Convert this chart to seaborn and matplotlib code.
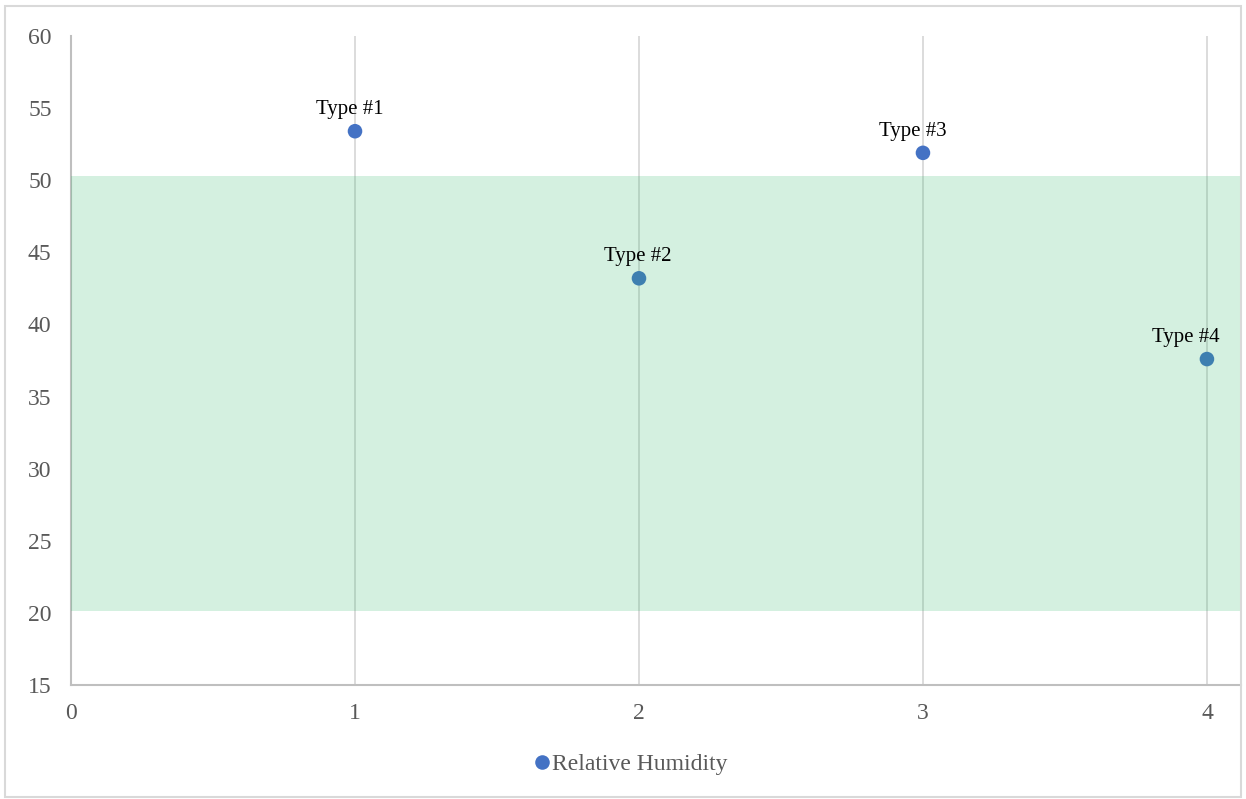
import matplotlib
matplotlib.use("Agg")
import matplotlib.pyplot as plt
import seaborn as sns
import pandas as pd

# Relative humidity by type
x_pos = [1, 2, 3, 4]
humidity = [53.4, 43.2, 51.9, 37.6]
type_labels = ["Type #1", "Type #2", "Type #3", "Type #4"]
comfort_low, comfort_high = 20.1, 50.3
series_name = "Relative Humidity"

df = pd.DataFrame({"x": x_pos, "rh": humidity, "series": series_name})

sns.set_theme(style="white")
plt.rcParams["font.family"] = ["Liberation Serif", "DejaVu Serif"]

fig = plt.figure(figsize=(12.46, 7.99), dpi=100)
ax = fig.add_axes([0.057, 0.1427, 0.939, 0.8122])

ax.set_xlim(0, 4.12)
ax.set_ylim(15, 60)
ax.set_xticks([0, 1, 2, 3, 4])
ax.set_yticks(range(15, 61, 5))

for xv in [1, 2, 3, 4]:
    ax.axvline(xv, color="#D9D9D9", lw=1.3, zorder=1)

sns.scatterplot(data=df, x="x", y="rh", hue="series", palette=["#4472C4"],
                s=110, edgecolor="none", ax=ax, zorder=3, legend=True)

# Comfort band drawn over the data
ax.axhspan(comfort_low, comfort_high, color="#28B464", alpha=0.2, lw=0, zorder=4)

label_dx = [-5, -1, -10, -21]
for xv, yv, lab, dx in zip(x_pos, humidity, type_labels, label_dx):
    ax.annotate(lab, (xv, yv), xytext=(dx, 12), textcoords="offset pixels",
                ha="center", va="bottom", fontsize=15, color="black", zorder=5)

ax.set_xlabel("")
ax.set_ylabel("")
for side in ["top", "right"]:
    ax.spines[side].set_visible(False)
for side in ["left", "bottom"]:
    ax.spines[side].set_color("#BFBFBF")
    ax.spines[side].set_linewidth(1.5)
ax.tick_params(axis="both", length=0, labelsize=17, labelcolor="#595959")
ax.tick_params(axis="y", pad=14)
ax.tick_params(axis="x", pad=13)

handles, labels = ax.get_legend_handles_labels()
ax.get_legend().remove()
fig.legend(handles, labels, loc="center", bbox_to_anchor=(0.5, 0.043),
           frameon=False, fontsize=17, handletextpad=-0.6,
           labelcolor="#595959", markerscale=1.0)

# Light outer frame
fig.patches.append(plt.Rectangle((0.004, 0.003), 0.992, 0.99, transform=fig.transFigure,
                                 fill=False, edgecolor="#D9D9D9", lw=1.5))

fig.savefig("out.png", dpi=100, facecolor="white")
